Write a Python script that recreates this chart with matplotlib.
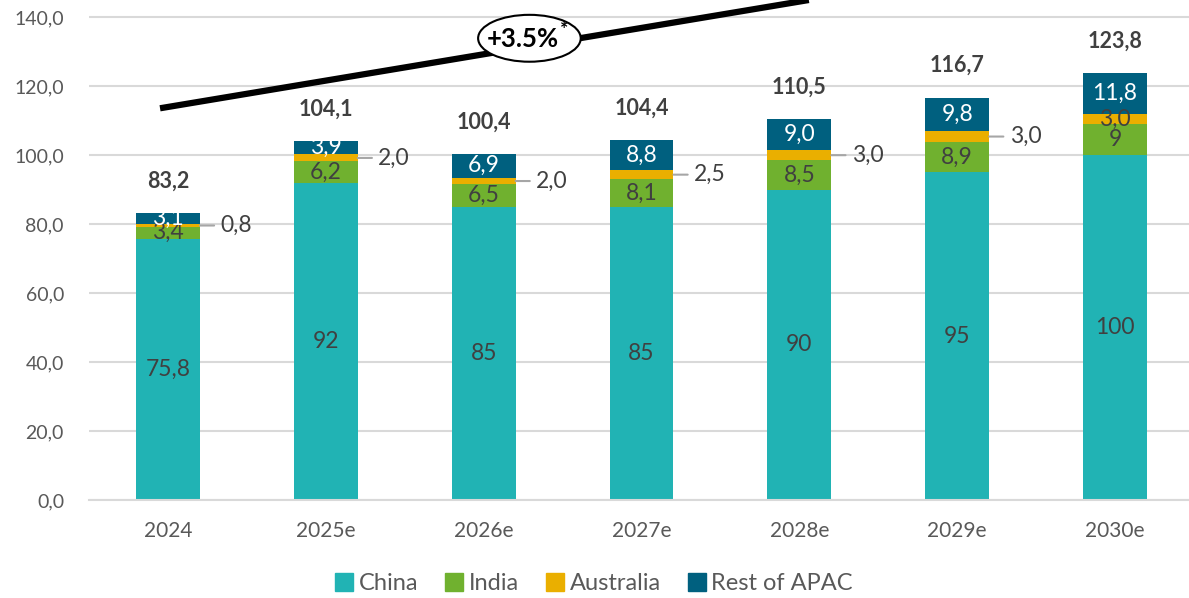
import matplotlib
matplotlib.use("Agg")
import matplotlib.pyplot as plt
from matplotlib.patches import Ellipse
from matplotlib.lines import Line2D
import numpy as np

plt.rcParams['font.family'] = ['Lato', 'DejaVu Sans']

# data
years = ["2024", "2025e", "2026e", "2027e", "2028e", "2029e", "2030e"]
china = [75.8, 92, 85, 85, 90, 95, 100]
india = [3.4, 6.2, 6.5, 8.1, 8.5, 8.9, 9]
australia = [0.8, 2.0, 2.0, 2.5, 3.0, 3.0, 3.0]
rest = [3.1, 3.9, 6.9, 8.8, 9.0, 9.8, 11.8]
totals = [83.2, 104.1, 100.4, 104.4, 110.5, 116.7, 123.8]

china_lbl = ["75,8", "92", "85", "85", "90", "95", "100"]
india_lbl = ["3,4", "6,2", "6,5", "8,1", "8,5", "8,9", "9"]
aus_lbl = ["0,8", "2,0", "2,0", "2,5", "3,0", "3,0", "3,0"]
rest_lbl = ["3,1", "3,9", "6,9", "8,8", "9,0", "9,8", "11,8"]
total_lbl = ["83,2", "104,1", "100,4", "104,4", "110,5", "116,7", "123,8"]

yticks = [0, 20, 40, 60, 80, 100, 120, 140]
ytick_lbl = ["0,0", "20,0", "40,0", "60,0", "80,0", "100,0", "120,0", "140,0"]

# trend line (data coords) and cagr label
trend_x = [-0.05, 4.06]
trend_y = [113.6, 145]
cagr_txt = "+3.5%"

C_CHINA = "#21B3B4"
C_INDIA = "#70B12F"
C_AUS = "#EAAF00"
C_REST = "#00607F"
TXT = "#404040"

fig = plt.figure(figsize=(11.89, 5.98), dpi=100)
ax = fig.add_axes([89/1189, 98/598, 1105/1189, 500/598])

x = np.arange(len(years))
w = 0.405
china = np.array(china); india = np.array(india)
australia = np.array(australia); rest = np.array(rest)

ax.bar(x, china, w, color=C_CHINA, zorder=2)
ax.bar(x, india, w, bottom=china, color=C_INDIA, zorder=2)
ax.bar(x, australia, w, bottom=china+india, color=C_AUS, zorder=2)
ax.bar(x, rest, w, bottom=china+india+australia, color=C_REST, zorder=2)

fs = 16.5
for i in range(len(years)):
    ax.text(x[i], china[i]/2, china_lbl[i], ha='center', va='center', fontsize=fs, color=TXT, zorder=4)
    ax.text(x[i], china[i] + india[i]/2, india_lbl[i], ha='center', va='center', fontsize=fs, color=TXT, zorder=4)
    ya = china[i] + india[i] + australia[i]/2
    if i == len(years) - 1:
        ax.text(x[i], ya, aus_lbl[i], ha='center', va='center', fontsize=fs, color=TXT, zorder=5)
    else:
        ax.annotate("", xy=(x[i] + w/2, ya), xytext=(x[i] + w/2 + 0.09, ya),
                    arrowprops=dict(arrowstyle='-', color='#A6A6A6', lw=1.5, shrinkA=0, shrinkB=0))
        ax.text(x[i] + w/2 + 0.13, ya, aus_lbl[i], ha='left', va='center', fontsize=fs, color=TXT)
    yr = china[i] + india[i] + australia[i] + rest[i]/2
    ax.text(x[i], yr, rest_lbl[i], ha='center', va='center', fontsize=fs, color='white', zorder=4)
    ax.annotate(total_lbl[i], xy=(x[i], totals[i]), xytext=(0, 23), textcoords='offset points',
                ha='center', va='center', fontsize=15.5, fontweight='bold', color=TXT)

# trend line with ellipse
ax.plot(trend_x, trend_y, color='black', lw=4.5, solid_capstyle='butt', zorder=3)
ax.add_patch(Ellipse((2.29, 133.9), 0.65, 13.6, facecolor='white', edgecolor='black', lw=1.5, zorder=5))
ax.text(2.25, 133.6, cagr_txt, ha='center', va='center', fontsize=18.5, fontweight='bold', zorder=6)
ax.text(2.51, 136.5, "*", ha='center', va='center', fontsize=14, fontweight='bold', zorder=6)

ax.set_xlim(-0.5, 6.5)
ax.set_ylim(0, 145)
ax.set_yticks(yticks)
ax.set_yticklabels(ytick_lbl)
ax.set_xticks(x)
ax.set_xticklabels(years)
ax.tick_params(axis='y', length=0, pad=18, labelsize=14, labelcolor='#595959')
ax.tick_params(axis='x', length=0, pad=15, labelsize=15, labelcolor='#595959')
ax.grid(axis='y', color='#D9D9D9', lw=1.5, zorder=0)
ax.set_axisbelow(True)
for s in ['top', 'right', 'left']:
    ax.spines[s].set_visible(False)
ax.spines['bottom'].set_color('#D9D9D9')
ax.spines['bottom'].set_linewidth(1.5)

handles = [Line2D([], [], marker='s', ls='none', markersize=13, color=c)
           for c in [C_CHINA, C_INDIA, C_AUS, C_REST]]
fig.legend(handles, ["China", "India", "Australia", "Rest of APAC"], loc='center',
           bbox_to_anchor=(0.5, 14/598), ncol=4, frameon=False, fontsize=17,
           handlelength=0.7, handletextpad=0.25, columnspacing=1.2, labelcolor='#595959')

fig.savefig("out.png", dpi=100)
